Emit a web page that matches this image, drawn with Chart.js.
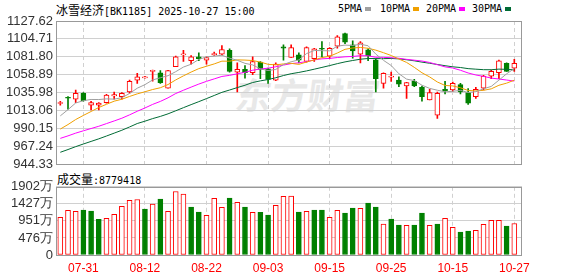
<!DOCTYPE html>
<html><head><meta charset="utf-8">
<script src="https://cdn.jsdelivr.net/npm/chart.js@4/dist/chart.umd.min.js"></script>
<style>
html,body{margin:0;padding:0;background:#fff;width:578px;height:276px;overflow:hidden;}
body{position:relative;font-family:"Noto Sans CJK SC",sans-serif;color:#000;}
.abs{position:absolute;white-space:nowrap;}
.cjk{font-family:"Noto Sans CJK SC",sans-serif;font-size:12px;}
.mono{font-family:"DejaVu Sans Mono",monospace;font-size:10px;}
.sw{position:absolute;width:6px;height:4px;top:7px;}
canvas{position:absolute;left:0;}
#wm{left:236px;top:72px;font-size:36px;font-weight:bold;color:#e8e8e8;line-height:42px;letter-spacing:0px;transform:skewX(-8deg);}
</style>
</head><body>
<div id="wm" class="abs">东方财富</div>
<div class="abs" style="left:56px;top:0px;line-height:17px;"><span class="cjk">冰雪经济</span><span class="mono">[BK1185] 2025-10-27 15:00</span></div>
<div class="abs mono" style="left:338px;top:2px;line-height:14px;">5PMA</div><div class="sw" style="left:365px;background:#a0a0a0;"></div>
<div class="abs mono" style="left:380px;top:2px;line-height:14px;">10PMA</div><div class="sw" style="left:413px;background:#f0a000;"></div>
<div class="abs mono" style="left:426px;top:2px;line-height:14px;">20PMA</div><div class="sw" style="left:459px;background:#ff00ff;"></div>
<div class="abs mono" style="left:472px;top:2px;line-height:14px;">30PMA</div><div class="sw" style="left:505px;background:#006b35;"></div>
<div class="abs" style="left:57px;top:169px;line-height:17px;"><span class="cjk">成交量</span><span class="mono">:8779418</span></div>
<canvas id="main" width="578" height="175" style="top:0;width:578px;height:175px;"></canvas>
<canvas id="vol" width="578" height="100" style="top:176px;width:578px;height:100px;"></canvas>
<script>
// ---- data ----
const dateLabels = ['07-31','08-12','08-22','09-03','09-15','09-25','10-15','10-27'];
const dateIndex = [3,11,19,27,35,43,51,59];
const priceTicks = [944.33,967.24,990.15,1013.06,1035.98,1058.89,1081.80,1104.71,1127.62];
const priceTickLabels = ['944.33','967.24','990.15','1013.06','1035.98','1058.89','1081.80','1104.71','1127.62'];
const volTickValues = [0,475.5,951,1426.5,1902];
const volTickLabels = ['0','476万','951万','1427万','1902万'];

const opens = [
1022.0,1029.6,1027.5,1035.1,1019.8,1019.8,1023.2,1031.6,1030.9,1036.7,
1052.0,1054.8,1063.1,1061.4,1041.8,1069.1,1084.3,1076.7,1081.8,1077.5,
1084.3,1085.1,1090.2,1062.2,1065.6,1061.4,1074.9,1066.5,1052.0,1094.5,
1080.9,1084.3,1075.8,1079.3,1092.0,1082.6,1095.3,1111.5,1097.0,1085.1,
1090.7,1078.0,1047.8,1055.8,1052.0,1044.4,1050.4,1042.7,1026.6,1007.1,
1040.2,1039.3,1046.2,1036.0,1030.9,1041.8,1057.1,1061.4,1073.3,1067.3];
const closes = [
1023.2,1028.7,1035.1,1025.8,1023.2,1022.7,1032.9,1033.4,1035.1,1050.4,
1056.3,1055.6,1063.7,1048.7,1064.0,1081.8,1085.1,1081.8,1079.3,1080.9,
1086.0,1091.1,1063.1,1065.6,1061.4,1075.8,1065.6,1052.9,1072.4,1092.8,
1093.6,1077.5,1093.6,1092.0,1091.5,1092.7,1107.3,1100.4,1089.4,1099.6,
1083.1,1053.8,1060.5,1056.3,1046.9,1048.7,1044.4,1030.9,1036.0,1035.1,
1038.5,1047.8,1036.7,1022.4,1040.2,1057.1,1063.1,1076.7,1063.1,1073.3];
const highs = [
1024.9,1030.9,1039.3,1036.0,1024.9,1023.2,1033.8,1036.7,1036.0,1052.0,
1060.5,1056.7,1064.7,1064.0,1064.4,1082.6,1090.2,1083.5,1086.9,1081.8,
1087.7,1096.2,1092.0,1074.1,1070.7,1081.8,1075.8,1067.3,1074.1,1097.0,
1097.0,1086.9,1094.5,1092.7,1101.3,1093.6,1108.9,1112.3,1102.2,1101.3,
1092.0,1079.3,1061.4,1062.2,1056.3,1049.1,1052.9,1044.4,1040.2,1036.7,
1050.4,1049.5,1047.8,1041.0,1042.7,1058.0,1064.7,1077.5,1074.1,1078.4];
const lows = [
1020.0,1014.7,1023.2,1024.9,1013.8,1013.8,1022.4,1027.5,1027.5,1035.1,
1047.8,1054.3,1050.7,1047.8,1041.8,1069.1,1075.8,1072.4,1076.7,1072.4,
1083.5,1084.3,1062.2,1036.7,1054.6,1058.9,1053.8,1047.8,1051.2,1077.5,
1080.9,1074.1,1074.9,1075.8,1081.8,1079.3,1092.7,1098.7,1080.0,1074.1,
1076.7,1036.7,1041.8,1050.4,1043.6,1028.4,1043.6,1024.9,1026.6,1002.9,
1034.2,1037.6,1034.2,1020.7,1028.4,1039.3,1053.8,1053.8,1063.1,1063.1];
const ma5 = [
1006.2,1014.2,1022.7,1025.6,1027.2,1027.1,1027.94,1027.6,1029.46,1034.9,
1041.62,1046.16,1052.22,1054.94,1057.66,1062.76,1068.66,1072.28,1078.4,1081.78,
1082.62,1083.82,1080.08,1077.34,1073.44,1071.4,1066.3,1064.26,1065.62,1071.9,
1075.46,1077.84,1085.98,1089.9,1089.64,1089.46,1095.42,1096.78,1096.26,1097.88,
1095.96,1085.26,1077.28,1070.66,1060.12,1053.24,1051.36,1045.44,1041.38,1039.02,
1036.98,1037.66,1038.82,1036.1,1037.12,1040.84,1043.9,1051.9,1060.04,1066.66];
const ma10 = [
989.3,995.1,1001.5,1006.8,1011.8,1016.9,1021.0,1025.0,1027.5,1031.05,
1034.36,1037.05,1039.91,1042.2,1046.28,1052.19,1057.41,1062.25,1066.67,1069.72,
1072.69,1076.24,1076.18,1077.87,1077.61,1077.01,1075.06,1072.17,1071.48,1072.67,
1073.43,1072.07,1075.12,1077.76,1080.77,1082.46,1086.63,1091.38,1093.08,1093.76,
1092.71,1090.34,1087.03,1083.46,1079.0,1074.6,1068.31,1061.36,1056.02,1049.57,
1045.11,1044.51,1042.13,1038.74,1038.07,1038.91,1040.78,1045.36,1048.07,1051.89];
const ma20 = [
977.4,980.6,984.1,987.1,990.0,992.9,996.3,999.7,1003.2,1007.5,
1012.1,1016.3,1020.9,1024.7,1029.3,1034.8,1039.0,1043.0,1046.9,1050.39,
1053.53,1056.65,1058.05,1060.04,1061.95,1064.6,1066.24,1067.21,1069.08,1071.2,
1073.06,1074.16,1075.65,1077.82,1079.19,1079.74,1080.85,1081.78,1082.28,1083.22,
1083.07,1081.21,1081.08,1080.61,1079.89,1078.53,1077.47,1076.37,1074.55,1071.67,
1068.91,1067.43,1064.58,1061.1,1058.54,1056.76,1054.55,1053.36,1052.05,1050.73];
const ma30 = [
959.6,963.1,966.8,970.2,973.5,976.8,980.4,984.1,987.8,992.0,
996.4,999.4,1002.7,1005.5,1008.8,1012.7,1016.7,1020.6,1024.4,1028.3,
1032.3,1036.3,1039.3,1042.4,1045.4,1048.9,1051.0,1052.7,1055.0,1057.81,
1060.16,1061.79,1063.74,1065.94,1068.22,1070.55,1073.03,1075.27,1077.08,1078.72,
1079.61,1079.55,1079.44,1079.7,1079.13,1078.02,1076.67,1074.97,1073.53,1072.0,
1070.42,1068.97,1068.09,1066.65,1065.95,1065.32,1065.24,1066.03,1065.72,1065.07];
const volumes = [ // 万
1048,1243,1215,1253,1225,993,1021,1132,1355,1522,
1549,1280,1420,1559,1215,1772,1698,1336,1197,1104,
1577,1327,1587,1466,1336,1188,1188,1113,1382,1633,
1642,1197,1215,1253,1253,1048,1243,1169,1308,1299,
1447,1336,863,1002,835,826,835,1169,826,863,
1021,770,640,668,687,854,965,965,807,877.9418];

// ---- styling ----
const RED='#ff0000', GREEN='#008000', GRID='#d0d0d0', BORDER='#999999';
const idx = closes.map((_,i)=>i);
const upCandle = idx.map(i=>closes[i]>=opens[i]);
const upVol = idx.map(i=> i===0 ? true : closes[i]>=closes[i-1]);
const X_MIN=-0.56, X_MAX=60;

const boxPlugin = {id:'box', afterDraw(chart){
  const {ctx, chartArea:a} = chart;
  ctx.save(); ctx.strokeStyle=BORDER; ctx.lineWidth=1;
  ctx.strokeRect(Math.round(a.left)+0.5, Math.round(a.top)+0.5, Math.round(a.right)-Math.round(a.left)-1, Math.round(a.bottom)-Math.round(a.top));
  ctx.restore();
}};

function xScale(showLabels){
  return {
    type:'linear', min:X_MIN, max:X_MAX, offset:false,
    afterBuildTicks:s=>{ s.ticks = dateIndex.map(v=>({value:v})); },
    afterFit:s=>{ s.height = showLabels ? 21 : 0; },
    grid:{color:GRID, drawTicks:false, offset:false},
    border:{display:false, dash:[4,3]},
    ticks:{display:showLabels, autoSkip:false, maxRotation:0, padding:6, color:RED,
      font:{family:'Liberation Sans', size:12},
      callback:(v,i)=>dateLabels[i]}
  };
}

const common = {responsive:false, animation:false, devicePixelRatio:1,
  plugins:{legend:{display:false}, tooltip:{enabled:false}}};

const lineDs = (arr,color)=>({type:'line', data:idx.map(i=>({x:i,y:arr[i]})), borderColor:color, borderWidth:1, pointRadius:0, tension:0, order:1});

new Chart(document.getElementById('main'), {
  type:'bar',
  data:{datasets:[
    {type:'bar', data:idx.map(i=>({x:i,y:[lows[i],highs[i]]})), backgroundColor:idx.map(i=>upCandle[i]?RED:GREEN), barThickness:1, grouped:false, order:3},
    {type:'bar', data:idx.map(i=>({x:i,y:[opens[i],closes[i]]})), backgroundColor:idx.map(i=>upCandle[i]?'#ffffff':GREEN), borderColor:idx.map(i=>upCandle[i]?RED:GREEN), borderWidth:1, borderSkipped:false, barThickness:5, minBarLength:1, grouped:false, order:2},
    lineDs(ma5,'#a0a0a0'), lineDs(ma10,'#f0a000'), lineDs(ma20,'#ff00ff'), lineDs(ma30,'#006b35')
  ]},
  options:Object.assign({}, common, {
    layout:{padding:{left:0,right:56,top:21,bottom:10}},
    scales:{
      x: xScale(false),
      y:{type:'linear', min:944.33, max:1127.62,
        afterBuildTicks:s=>{ s.ticks = priceTicks.map(v=>({value:v})); },
        afterFit:s=>{ s.width = 56; },
        grid:{color:GRID, drawTicks:false}, border:{display:false},
        ticks:{autoSkip:false, padding:3, color:'#333', font:{family:'Liberation Sans', size:13}, callback:(v,i)=>priceTickLabels[i]}}
    }
  }),
  plugins:[boxPlugin]
});

new Chart(document.getElementById('vol'), {
  type:'bar',
  data:{datasets:[
    {type:'bar', data:idx.map(i=>({x:i,y:volumes[i]})), backgroundColor:idx.map(i=>upVol[i]?'#ffffff':GREEN), borderColor:idx.map(i=>upVol[i]?RED:GREEN), borderWidth:1, borderSkipped:false, barThickness:5, grouped:false}
  ]},
  options:Object.assign({}, common, {
    layout:{padding:{left:0,right:56,top:10,bottom:0}},
    scales:{
      x: xScale(true),
      y:{type:'linear', min:0, max:1902,
        afterBuildTicks:s=>{ s.ticks = volTickValues.map(v=>({value:v})); },
        afterFit:s=>{ s.width = 56; },
        grid:{color:GRID, drawTicks:false}, border:{display:false},
        ticks:{autoSkip:false, padding:3, color:'#333', font:{family:'Liberation Sans', size:13},
          callback:(v,i)=>volTickLabels[i]}}
    }
  }),
  plugins:[boxPlugin]
});
</script>
</body></html>
